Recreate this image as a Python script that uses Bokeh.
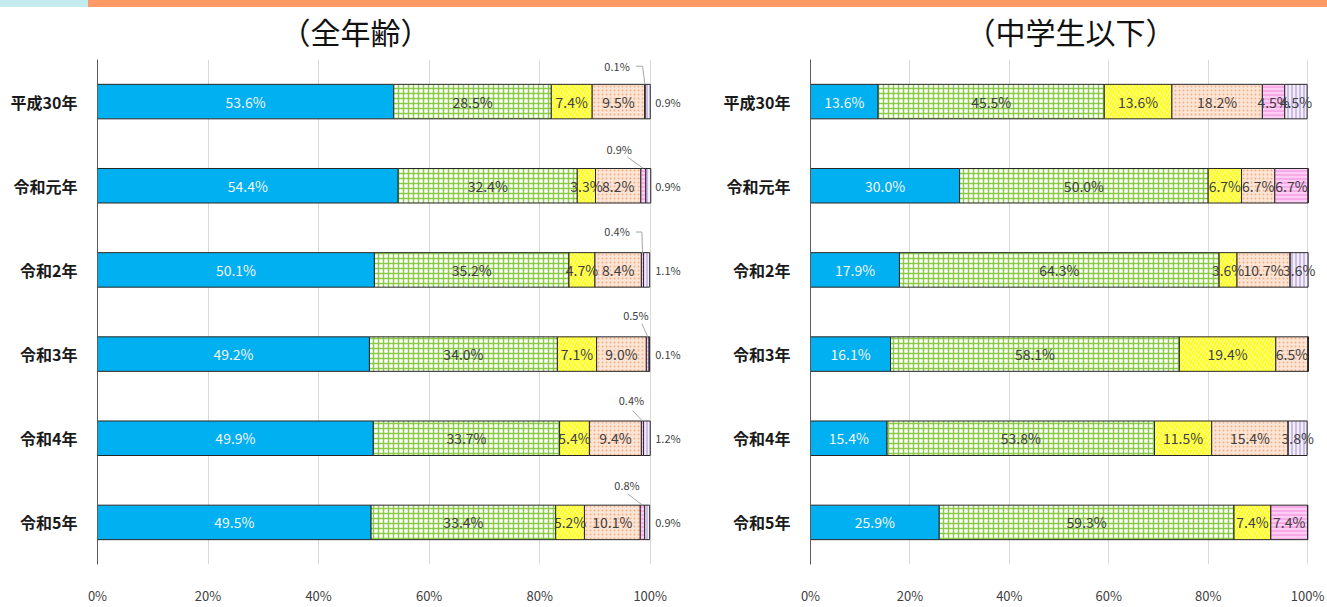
from bokeh.plotting import figure
from bokeh.models import FactorRange, Range1d, ColumnDataSource, FixedTicker
from bokeh.core.properties import value
from bokeh.layouts import row
from bokeh.embed import file_html
from bokeh.resources import INLINE

# ---------------- data ----------------
years = ["平成30年", "令和元年", "令和2年", "令和3年", "令和4年", "令和5年"]
series = ["s1", "s2", "s3", "s4", "s5", "s6"]
x_ticks = [0, 20, 40, 60, 80, 100]
x_tick_labels = ["0%", "20%", "40%", "60%", "80%", "100%"]

titles = ["（全年齢）", "（中学生以下）"]

all_s1 = [53.6, 54.4, 50.1, 49.2, 49.9, 49.5]
all_s2 = [28.5, 32.4, 35.2, 34.0, 33.7, 33.4]
all_s3 = [7.4, 3.3, 4.7, 7.1, 5.4, 5.2]
all_s4 = [9.5, 8.2, 8.4, 9.0, 9.4, 10.1]
all_s5 = [0.1, 0.9, 0.4, 0.5, 0.4, 0.8]
all_s6 = [0.9, 0.9, 1.1, 0.1, 1.2, 0.9]

jr_s1 = [13.6, 30.0, 17.9, 16.1, 15.4, 25.9]
jr_s2 = [45.5, 50.0, 64.3, 58.1, 53.8, 59.3]
jr_s3 = [13.6, 6.7, 3.6, 19.4, 11.5, 7.4]
jr_s4 = [18.2, 6.7, 10.7, 6.5, 15.4, 0.0]
jr_s5 = [4.5, 6.7, 0.0, 0.0, 0.0, 7.4]
jr_s6 = [4.5, 0.0, 3.6, 0.0, 3.8, 0.0]

# ---------------- styles ----------------
FONT = "Noto Sans CJK JP"
fills = ["#00B0F0", "#FFFFFF", "#FFFF00", "#FCE4D6", "#FFCCF5", "#F3EEFB"]
hatches = [" ", "+", "/", ".", "-", "|"]
hatch_colors = ["#00B0F0", "#8CCB48", "#FFFFB0", "#F4B183", "#F08AD8", "#A58AD6"]
hatch_scales = [6, 5, 6, 4, 4, 4]
hatch_weights = [1, 1.5, 1.2, 1, 1, 1]
label_colors = ["#F4F4F4", "#404040", "#404040", "#404040", "#404040", "#404040"]

# leader-line styling for the tiny s5 values of the left chart (offsets, in % / band units)
lead_label_x = [94.0, 94.4, 94.0, 97.4, 96.6, 95.8]
lead_start_x = [97.4, 95.9, 97.4, 98.5, 96.8, 95.9]
lead_knee_x = [98.6, 95.9, 98.5, 98.5, 96.8, 95.9]
lead_start_dy = [0.42, 0.34, 0.45, 0.36, 0.33, 0.34]
lead_label_dy = [0.42, 0.44, 0.46, 0.47, 0.46, 0.45]

BAR_H = 0.41
H = 607
TOP = 58
BOTTOM = 31

# decorative top band (CSS background of the figure hosts)
CYAN = "#C4ECEE"
ORANGE = "#FF9A66"
band_left = (f"linear-gradient(to right, {CYAN} 0px, {CYAN} 88px, {ORANGE} 88px) "
             f"top left / 100% 7px no-repeat, white")
band_right = f"linear-gradient({ORANGE}, {ORANGE}) top left / 100% 7px no-repeat, white"


def make_fig(title, data, width, border_left, x_end, title_offset, small_outside, band):
    p = figure(width=width, height=H,
               y_range=FactorRange(factors=years[::-1]),
               x_range=Range1d(0, x_end),
               output_backend="svg", toolbar_location=None,
               min_border_left=border_left, min_border_right=0,
               min_border_top=TOP, min_border_bottom=BOTTOM,
               styles={"background": band})
    p.outline_line_color = None
    p.background_fill_color = "white"
    p.border_fill_alpha = 0.0

    # title
    p.title.text = title
    p.title.align = "left"
    p.title.offset = title_offset
    p.title.text_font = FONT
    p.title.text_font_size = "30px"
    p.title.text_font_style = "normal"
    p.title.text_color = "#111111"
    p.title.standoff = 13

    # stacked bars
    src = {"year": years}
    for s, vals in zip(series, data):
        src[s] = vals
    source = ColumnDataSource(src)
    p.hbar_stack(series, y="year", height=BAR_H, source=source,
                 fill_color=fills, line_color="#262626", line_width=1,
                 hatch_pattern=hatches, hatch_color=hatch_colors,
                 hatch_scale=hatch_scales, hatch_weight=hatch_weights)

    # label positions derived from data
    yc = {f: i + 0.5 for i, f in enumerate(p.y_range.factors)}
    in_x, in_y, in_t, in_c = [], [], [], []
    out_x, out_y, out_t = [], [], []
    top_x, top_y, top_t = [], [], []
    lxs, lys = [], []
    for r, yr in enumerate(years):
        cum = 0.0
        for k in range(len(series)):
            v = data[k][r]
            mid = cum + v / 2.0
            cum += v
            if v <= 0:
                continue
            txt = f"{v:.1f}%"
            if small_outside and k == 5:
                out_x.append(100.0)
                out_y.append(yc[yr])
                out_t.append(txt)
            elif small_outside and k == 4:
                top_x.append(lead_label_x[r])
                top_y.append(yc[yr] + lead_label_dy[r])
                top_t.append(txt)
                lxs.append([lead_start_x[r], lead_knee_x[r], mid])
                lys.append([yc[yr] + lead_start_dy[r], yc[yr] + lead_start_dy[r],
                            yc[yr] + BAR_H / 2])
            else:
                in_x.append(mid)
                in_y.append(yc[yr])
                in_t.append(txt)
                in_c.append(label_colors[k])

    p.text(x=in_x, y=in_y, text=in_t, text_color=in_c,
           text_align="center", text_baseline="middle",
           text_font=value(FONT), text_font_size="14px")

    if small_outside:
        p.text(x=out_x, y=out_y, text=out_t, x_offset=5,
               text_align="left", text_baseline="middle",
               text_font=value(FONT), text_font_size="11px", text_color="#404040")
        p.text(x=top_x, y=top_y, text=top_t,
               text_align="center", text_baseline="middle",
               text_font=value(FONT), text_font_size="11px", text_color="#404040")
        p.multi_line(xs=lxs, ys=lys, line_color="#A6A6A6", line_width=1)

    # axes
    p.xaxis.ticker = FixedTicker(ticks=x_ticks)
    p.xaxis.major_label_overrides = {t: l for t, l in zip(x_ticks, x_tick_labels)}
    p.xaxis.axis_line_color = None
    p.xaxis.major_tick_line_color = None
    p.xaxis.minor_tick_line_color = None
    p.xaxis.major_label_standoff = 15
    p.xaxis.major_label_text_font = FONT
    p.xaxis.major_label_text_font_size = "13px"
    p.xaxis.major_label_text_color = "#404040"

    p.yaxis.axis_line_color = "#595959"
    p.yaxis.axis_line_width = 1
    p.yaxis.major_tick_line_color = None
    p.yaxis.minor_tick_line_color = None
    p.yaxis.major_label_standoff = 14
    p.yaxis.major_label_text_font = FONT
    p.yaxis.major_label_text_font_size = "16px"
    p.yaxis.major_label_text_font_style = "bold"
    p.yaxis.major_label_text_color = "#1A1A1A"

    p.xgrid.ticker = FixedTicker(ticks=x_ticks)
    p.xgrid.grid_line_color = "#D9D9D9"
    p.xgrid.grid_line_width = 1
    p.ygrid.grid_line_color = None
    return p


left = make_fig(titles[0], [all_s1, all_s2, all_s3, all_s4, all_s5, all_s6],
                width=705, border_left=97, x_end=110, title_offset=183,
                small_outside=True, band=band_left)
right = make_fig(titles[1], [jr_s1, jr_s2, jr_s3, jr_s4, jr_s5, jr_s6],
                 width=622, border_left=105, x_end=104, title_offset=155,
                 small_outside=False, band=band_right)

layout = row(left, right)
with open("out.html", "w") as f:
    f.write(file_html(layout, INLINE))
